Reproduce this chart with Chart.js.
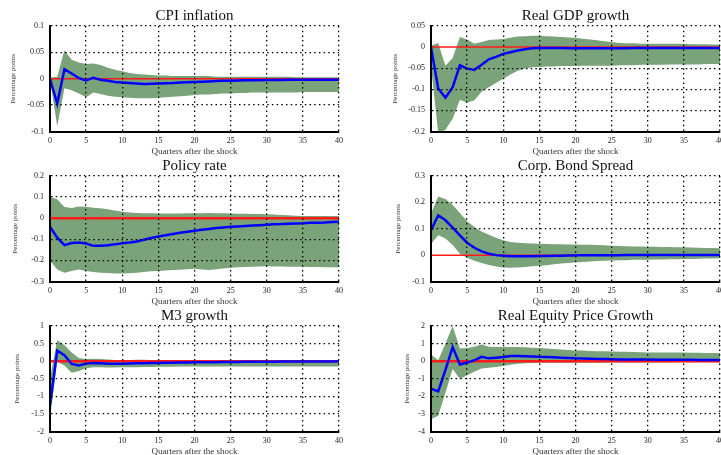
<!DOCTYPE html>
<html>
<head>
<meta charset="utf-8">
<script src="https://cdn.jsdelivr.net/npm/chart.js@4.4.0/dist/chart.umd.min.js"></script>
<style>
  html, body { margin: 0; padding: 0; background: #fff; width: 721px; height: 455px; overflow: hidden; position: relative; }
  canvas { position: absolute; }
</style>
</head>
<body>
<canvas id="c-cpi" width="360" height="160" style="left:0;top:0"></canvas>
<canvas id="c-gdp" width="360" height="160" style="left:381px;top:0"></canvas>
<canvas id="c-rate" width="360" height="160" style="left:0;top:150px"></canvas>
<canvas id="c-spread" width="360" height="160" style="left:381px;top:150px"></canvas>
<canvas id="c-m3" width="360" height="160" style="left:0;top:300px"></canvas>
<canvas id="c-equity" width="360" height="160" style="left:381px;top:300px"></canvas>
<script>
// quarters after the shock, 0..40
const quarters = [0,1,2,3,4,5,6,7,8,9,10,11,12,13,14,15,16,17,18,19,20,
                  21,22,23,24,25,26,27,28,29,30,31,32,33,34,35,36,37,38,39,40];
const xTicks = [0, 40, 5];

// CPI inflation
const cpiIrf = [0,-0.047,0.018,0.01,0.001,-0.003,0.002,-0.002,-0.004,-0.006,-0.007,-0.008,-0.009,-0.01,-0.0095,-0.009,-0.0085,-0.008,-0.007,-0.0065,-0.006,
                -0.0055,-0.005,-0.0045,-0.004,-0.004,-0.0035,-0.003,-0.003,-0.003,-0.0025,-0.0025,-0.0025,-0.002,-0.002,-0.002,-0.002,-0.002,-0.002,-0.002,-0.002];
const cpiUpper = [0.002,0.004,0.054,0.036,0.031,0.028,0.029,0.026,0.021,0.017,0.014,0.011,0.009,0.008,0.007,0.006,0.006,0.005,0.005,0.005,0.005,
                  0.005,0.005,0.004,0.004,0.004,0.004,0.004,0.004,0.004,0.004,0.004,0.004,0.004,0.003,0.003,0.003,0.003,0.003,0.003,0.003];
const cpiLower = [-0.002,-0.09,-0.018,-0.022,-0.028,-0.035,-0.026,-0.029,-0.032,-0.034,-0.035,-0.036,-0.037,-0.037,-0.037,-0.036,-0.035,-0.034,-0.033,-0.032,-0.031,
                  -0.03,-0.03,-0.029,-0.028,-0.028,-0.027,-0.027,-0.026,-0.026,-0.026,-0.026,-0.026,-0.026,-0.026,-0.025,-0.025,-0.025,-0.025,-0.025,-0.025];
const cpiTicks = [-0.1, 0.1, 0.05];

// Real GDP growth
const gdpIrf = [0,-0.098,-0.12,-0.095,-0.043,-0.051,-0.054,-0.042,-0.029,-0.023,-0.016,-0.012,-0.008,-0.005,-0.003,-0.002,-0.002,-0.002,-0.002,-0.003,-0.003,
                -0.003,-0.003,-0.003,-0.003,-0.003,-0.003,-0.003,-0.002,-0.002,-0.002,-0.002,-0.002,-0.002,-0.002,-0.002,-0.002,-0.002,-0.002,-0.002,-0.002];
const gdpUpper = [0.003,0.01,-0.044,-0.026,0.024,0.018,0.008,0.012,0.017,0.018,0.019,0.022,0.025,0.026,0.027,0.027,0.026,0.025,0.024,0.023,0.022,
                  0.02,0.018,0.016,0.014,0.012,0.01,0.009,0.009,0.008,0.008,0.008,0.008,0.008,0.008,0.008,0.007,0.007,0.007,0.006,0.006];
const gdpLower = [-0.045,-0.205,-0.196,-0.17,-0.125,-0.132,-0.126,-0.106,-0.095,-0.085,-0.075,-0.065,-0.056,-0.051,-0.048,-0.047,-0.046,-0.046,-0.045,-0.045,-0.045,
                  -0.044,-0.044,-0.044,-0.044,-0.044,-0.043,-0.043,-0.043,-0.042,-0.042,-0.042,-0.042,-0.041,-0.041,-0.041,-0.041,-0.041,-0.04,-0.04,-0.04];
const gdpTicks = [-0.2, 0.05, 0.05];

// Policy rate
const rateIrf = [-0.04,-0.092,-0.128,-0.118,-0.115,-0.12,-0.131,-0.13,-0.128,-0.124,-0.119,-0.115,-0.11,-0.102,-0.094,-0.087,-0.081,-0.075,-0.069,-0.064,-0.059,
                 -0.055,-0.051,-0.047,-0.044,-0.041,-0.039,-0.037,-0.035,-0.033,-0.031,-0.029,-0.028,-0.026,-0.025,-0.024,-0.022,-0.021,-0.02,-0.018,-0.017];
const rateUpper = [0.1,0.09,0.053,0.048,0.055,0.054,0.05,0.047,0.043,0.036,0.03,0.027,0.025,0.024,0.023,0.022,0.022,0.022,0.022,0.023,0.023,
                   0.024,0.025,0.024,0.023,0.022,0.021,0.021,0.02,0.02,0.019,0.017,0.015,0.014,0.012,0.011,0.01,0.01,0.01,0.01,0.01];
const rateLower = [-0.2,-0.243,-0.258,-0.25,-0.243,-0.25,-0.255,-0.258,-0.26,-0.262,-0.262,-0.261,-0.258,-0.255,-0.252,-0.25,-0.248,-0.246,-0.244,-0.242,-0.24,
                   -0.243,-0.245,-0.242,-0.238,-0.235,-0.233,-0.231,-0.23,-0.229,-0.228,-0.229,-0.229,-0.23,-0.23,-0.23,-0.231,-0.231,-0.232,-0.232,-0.232];
const rateTicks = [-0.3, 0.2, 0.1];

// Corp. Bond Spread
const spreadIrf = [0.094,0.151,0.132,0.104,0.075,0.047,0.028,0.014,0.005,0,-0.002,-0.004,-0.004,-0.004,-0.004,-0.003,-0.003,-0.002,-0.002,-0.001,-0.001,
                   0,0,0,0,0,0,0.0005,0.0005,0.0005,0.0005,0.0005,0.0005,0.0005,0.0005,0.0005,0.0005,0.0005,0.0005,0.0005,0.0005];
const spreadUpper = [0.158,0.222,0.213,0.19,0.16,0.128,0.107,0.09,0.077,0.066,0.056,0.05,0.047,0.045,0.044,0.043,0.042,0.041,0.041,0.04,0.04,
                     0.039,0.039,0.038,0.037,0.036,0.035,0.034,0.033,0.033,0.032,0.032,0.031,0.031,0.03,0.03,0.029,0.028,0.027,0.027,0.026];
const spreadLower = [0.042,0.075,0.063,0.038,0.005,-0.01,-0.021,-0.03,-0.037,-0.043,-0.047,-0.048,-0.047,-0.045,-0.042,-0.04,-0.038,-0.035,-0.032,-0.03,-0.028,
                     -0.026,-0.024,-0.022,-0.021,-0.02,-0.019,-0.019,-0.018,-0.018,-0.018,-0.017,-0.017,-0.016,-0.016,-0.015,-0.015,-0.014,-0.013,-0.013,-0.012];
const spreadTicks = [-0.1, 0.3, 0.1];

// M3 growth
const m3Irf = [-1.26,0.3,0.17,-0.08,-0.12,-0.07,-0.05,-0.06,-0.07,-0.07,-0.07,-0.065,-0.06,-0.058,-0.055,-0.05,-0.047,-0.044,-0.04,-0.037,-0.034,
               -0.032,-0.03,-0.028,-0.026,-0.024,-0.022,-0.02,-0.018,-0.016,-0.015,-0.014,-0.013,-0.012,-0.011,-0.01,-0.009,-0.008,-0.007,-0.006,-0.005];
const m3Upper = [-0.5,0.6,0.45,0.25,0.09,0.06,0.07,0.06,0.045,0.035,0.03,0.035,0.04,0.04,0.035,0.03,0.03,0.03,0.03,0.03,0.03,
                 0.025,0.025,0.025,0.025,0.025,0.025,0.025,0.02,0.02,0.02,0.02,0.02,0.02,0.02,0.02,0.02,0.02,0.02,0.02,0.02];
const m3Lower = [-1.6,-0.02,-0.12,-0.33,-0.28,-0.2,-0.17,-0.17,-0.18,-0.18,-0.17,-0.17,-0.17,-0.165,-0.165,-0.16,-0.16,-0.16,-0.155,-0.155,-0.155,
                 -0.155,-0.15,-0.15,-0.15,-0.15,-0.15,-0.15,-0.15,-0.15,-0.15,-0.15,-0.15,-0.15,-0.15,-0.15,-0.15,-0.15,-0.15,-0.15,-0.15];
const m3Ticks = [-2, 1, 0.5];

// Real Equity Price Growth
const equityIrf = [-1.56,-1.72,-0.5,0.8,-0.19,-0.08,0.05,0.25,0.16,0.2,0.24,0.29,0.29,0.28,0.27,0.25,0.24,0.22,0.2,0.18,0.16,
                   0.15,0.14,0.13,0.12,0.11,0.1,0.1,0.095,0.09,0.09,0.085,0.085,0.08,0.08,0.075,0.075,0.07,0.07,0.065,0.06];
const equityUpper = [0.38,0.05,1.0,2.0,0.72,0.75,0.82,0.95,0.82,0.8,0.8,0.8,0.8,0.79,0.77,0.75,0.72,0.69,0.66,0.63,0.61,
                     0.6,0.58,0.57,0.56,0.55,0.54,0.53,0.52,0.51,0.5,0.5,0.5,0.49,0.49,0.49,0.48,0.48,0.47,0.47,0.46];
const equityLower = [-3.3,-3.1,-1.8,-0.45,-1.02,-0.8,-0.6,-0.42,-0.38,-0.33,-0.27,-0.2,-0.15,-0.12,-0.1,-0.09,-0.09,-0.09,-0.09,-0.09,-0.09,
                     -0.09,-0.09,-0.085,-0.085,-0.08,-0.08,-0.08,-0.075,-0.075,-0.075,-0.07,-0.07,-0.07,-0.065,-0.065,-0.065,-0.06,-0.06,-0.06,-0.06];
const equityTicks = [-4, 2, 1];

const SERIF = "'Liberation Serif', 'DejaVu Serif', serif";
const GREEN = '#7aa37a';
const BLUE = '#0000ff';
const RED = '#ff1a1a';

function toPoints(values) {
    return values.map((v, i) => ({ x: quarters[i], y: v }));
}

function fmt(v) {
    return String(+Number(v).toFixed(3));
}

function makeChart(id, title, irf, upper, lower, yTicks, zeroWidth, yTitlePad) {
    new Chart(document.getElementById(id), {
        type: 'line',
        data: {
            datasets: [
                { data: toPoints(irf), borderColor: BLUE, borderWidth: 2.5, pointRadius: 0, fill: false, tension: 0 },
                { data: quarters.map(q => ({ x: q, y: 0 })), borderColor: RED, borderWidth: zeroWidth, pointRadius: 0, fill: false },
                { data: toPoints(upper), borderColor: 'rgba(0,0,0,0)', borderWidth: 0, backgroundColor: GREEN, pointRadius: 0, fill: '+1' },
                { data: toPoints(lower), borderColor: 'rgba(0,0,0,0)', borderWidth: 0, pointRadius: 0, fill: false }
            ]
        },
        options: {
            responsive: false,
            animation: false,
            events: [],
            layout: { padding: { left: 0, right: 21, top: 0, bottom: 0 } },
            plugins: {
                legend: { display: false },
                tooltip: { enabled: false },
                title: {
                    display: true, text: title, fullSize: false, color: '#111',
                    font: { family: SERIF, size: 15, weight: 'normal' },
                    padding: { top: 7, bottom: 1 }
                }
            },
            scales: {
                x: {
                    type: 'linear', min: xTicks[0], max: xTicks[1],
                    afterFit: s => { s.height = 28.5; },
                    ticks: { stepSize: xTicks[2], padding: 5, color: '#222', maxRotation: 0, autoSkip: false,
                             font: { family: SERIF, size: 8 } },
                    grid: { z: 1, drawTicks: false, color: '#000', lineWidth: 1.3 },
                    border: { z: 1, color: '#000', width: 2, dash: [1.5, 3.2] },
                    title: { display: true, text: 'Quarters after the shock', color: '#333',
                             font: { family: SERIF, size: 9 }, padding: { top: 0, bottom: 2.6 } }
                },
                y: {
                    min: yTicks[0], max: yTicks[1],
                    afterFit: s => { s.width = 50; },
                    ticks: { stepSize: yTicks[2], padding: 6, color: '#222', autoSkip: false,
                             font: { family: SERIF, size: 8 }, callback: v => fmt(v) },
                    grid: { z: 1, drawTicks: false, lineWidth: 1.3,
                            color: c => (c.tick && c.tick.value === 0) ? 'rgba(0,0,0,0)' : '#000' },
                    border: { z: 1, color: '#000', width: 2, dash: [1.5, 3.2] },
                    title: { display: true, text: 'Percentage points', color: '#333',
                             font: { family: SERIF, size: 7 }, padding: { top: yTitlePad, bottom: 0 } }
                }
            }
        }
    });
}

makeChart('c-cpi', 'CPI inflation', cpiIrf, cpiUpper, cpiLower, cpiTicks, 1.5, 9);
makeChart('c-gdp', 'Real GDP growth', gdpIrf, gdpUpper, gdpLower, gdpTicks, 1.5, 10);
makeChart('c-rate', 'Policy rate', rateIrf, rateUpper, rateLower, rateTicks, 2.5, 11);
makeChart('c-spread', 'Corp. Bond Spread', spreadIrf, spreadUpper, spreadLower, spreadTicks, 1.5, 13);
makeChart('c-m3', 'M3 growth', m3Irf, m3Upper, m3Lower, m3Ticks, 2.5, 13);
makeChart('c-equity', 'Real Equity Price Growth', equityIrf, equityUpper, equityLower, equityTicks, 2.5, 22);
</script>
</body>
</html>
